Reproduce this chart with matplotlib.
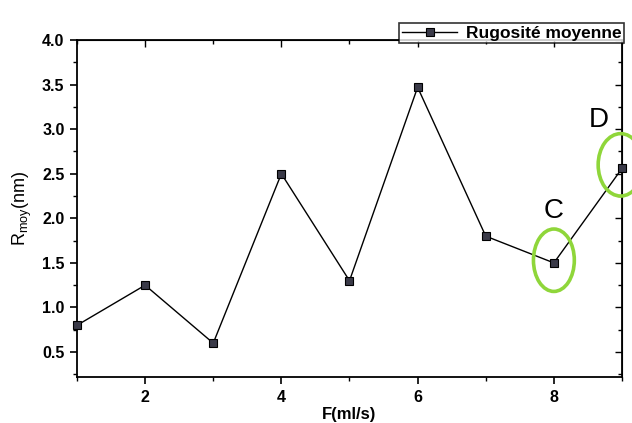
import matplotlib
matplotlib.use("Agg")
import matplotlib.pyplot as plt
from matplotlib.patches import Ellipse
from matplotlib.ticker import MultipleLocator

plt.rcParams['font.family'] = ['Liberation Sans', 'DejaVu Sans']
plt.rcParams['mathtext.fontset'] = 'custom'
plt.rcParams['mathtext.rm'] = 'Liberation Sans'
plt.rcParams['mathtext.it'] = 'Liberation Sans'

flow = [1, 2, 3, 4, 5, 6, 7, 8, 9]
roughness = [0.80, 1.25, 0.60, 2.50, 1.30, 3.47, 1.80, 1.50, 2.56]
series_label = "Rugosité moyenne"

fig = plt.figure(figsize=(6.32, 4.23), dpi=100)
ax = fig.add_axes([0.1218, 0.1087, 0.8624, 0.7967])

ax.plot(flow, roughness, color='black', lw=1.0, marker='s', markersize=6,
        markerfacecolor='#3a3a48', markeredgecolor='black', markeredgewidth=0.8,
        label=series_label, clip_on=False, zorder=3)

ax.set_xlim(1, 9)
ax.set_ylim(0.22, 4.0)
ax.set_xticks([2, 4, 6, 8])
ax.xaxis.set_minor_locator(MultipleLocator(1))
ax.set_yticks([0.5, 1.0, 1.5, 2.0, 2.5, 3.0, 3.5, 4.0])
ax.yaxis.set_minor_locator(MultipleLocator(0.25))

ax.tick_params(axis='both', which='major', direction='out', length=5, width=1.2,
               labelsize=11.5, pad=4)
ax.tick_params(axis='both', which='minor', direction='out', length=3, width=1.0)
for lbl in ax.get_xticklabels() + ax.get_yticklabels():
    lbl.set_fontweight('bold')

# mirrored inward ticks on the top and right spines
axt = ax.secondary_xaxis('top')
axt.set_xticks([2, 4, 6, 8])
axt.xaxis.set_minor_locator(MultipleLocator(1))
axt.tick_params(which='major', direction='in', length=5, width=1.0, labeltop=False)
axt.tick_params(which='minor', direction='in', length=3, width=1.0)
axr = ax.secondary_yaxis('right')
axr.set_yticks([0.5, 1.0, 1.5, 2.0, 2.5, 3.0, 3.5, 4.0])
axr.yaxis.set_minor_locator(MultipleLocator(0.25))
axr.tick_params(which='major', direction='in', length=5, width=1.0, labelright=False)
axr.tick_params(which='minor', direction='in', length=3, width=1.0)

for s in ax.spines.values():
    s.set_linewidth(1.3)

ax.set_xlabel('F(ml/s)', fontsize=12, fontweight='bold', labelpad=1.5)
ax.set_ylabel(r'R$_{moy}$(nm)', fontsize=13, labelpad=6)

# highlighted points C and D
ax.add_patch(Ellipse((8.0, 1.53), 0.6, 0.7, fill=False, edgecolor='#8fd63a',
                     lw=2.6, clip_on=False, zorder=4))
ax.add_patch(Ellipse((8.98, 2.6), 0.66, 0.7, fill=False, edgecolor='#8fd63a',
                     lw=2.6, clip_on=False, zorder=4))
ax.text(8.0, 2.08, 'C', fontsize=20, ha='center', va='center')
ax.text(8.66, 3.1, 'D', fontsize=20, ha='center', va='center')

leg = ax.legend(loc='lower right', bbox_to_anchor=(1.004, 0.99), fontsize=12.5,
                frameon=True, fancybox=False, edgecolor='black', borderpad=0.15,
                handlelength=3.2, handletextpad=0.5, borderaxespad=0.0)
leg.get_frame().set_linewidth(1.2)
for t in leg.get_texts():
    t.set_fontweight('bold')

fig.savefig('out.png', dpi=100)
